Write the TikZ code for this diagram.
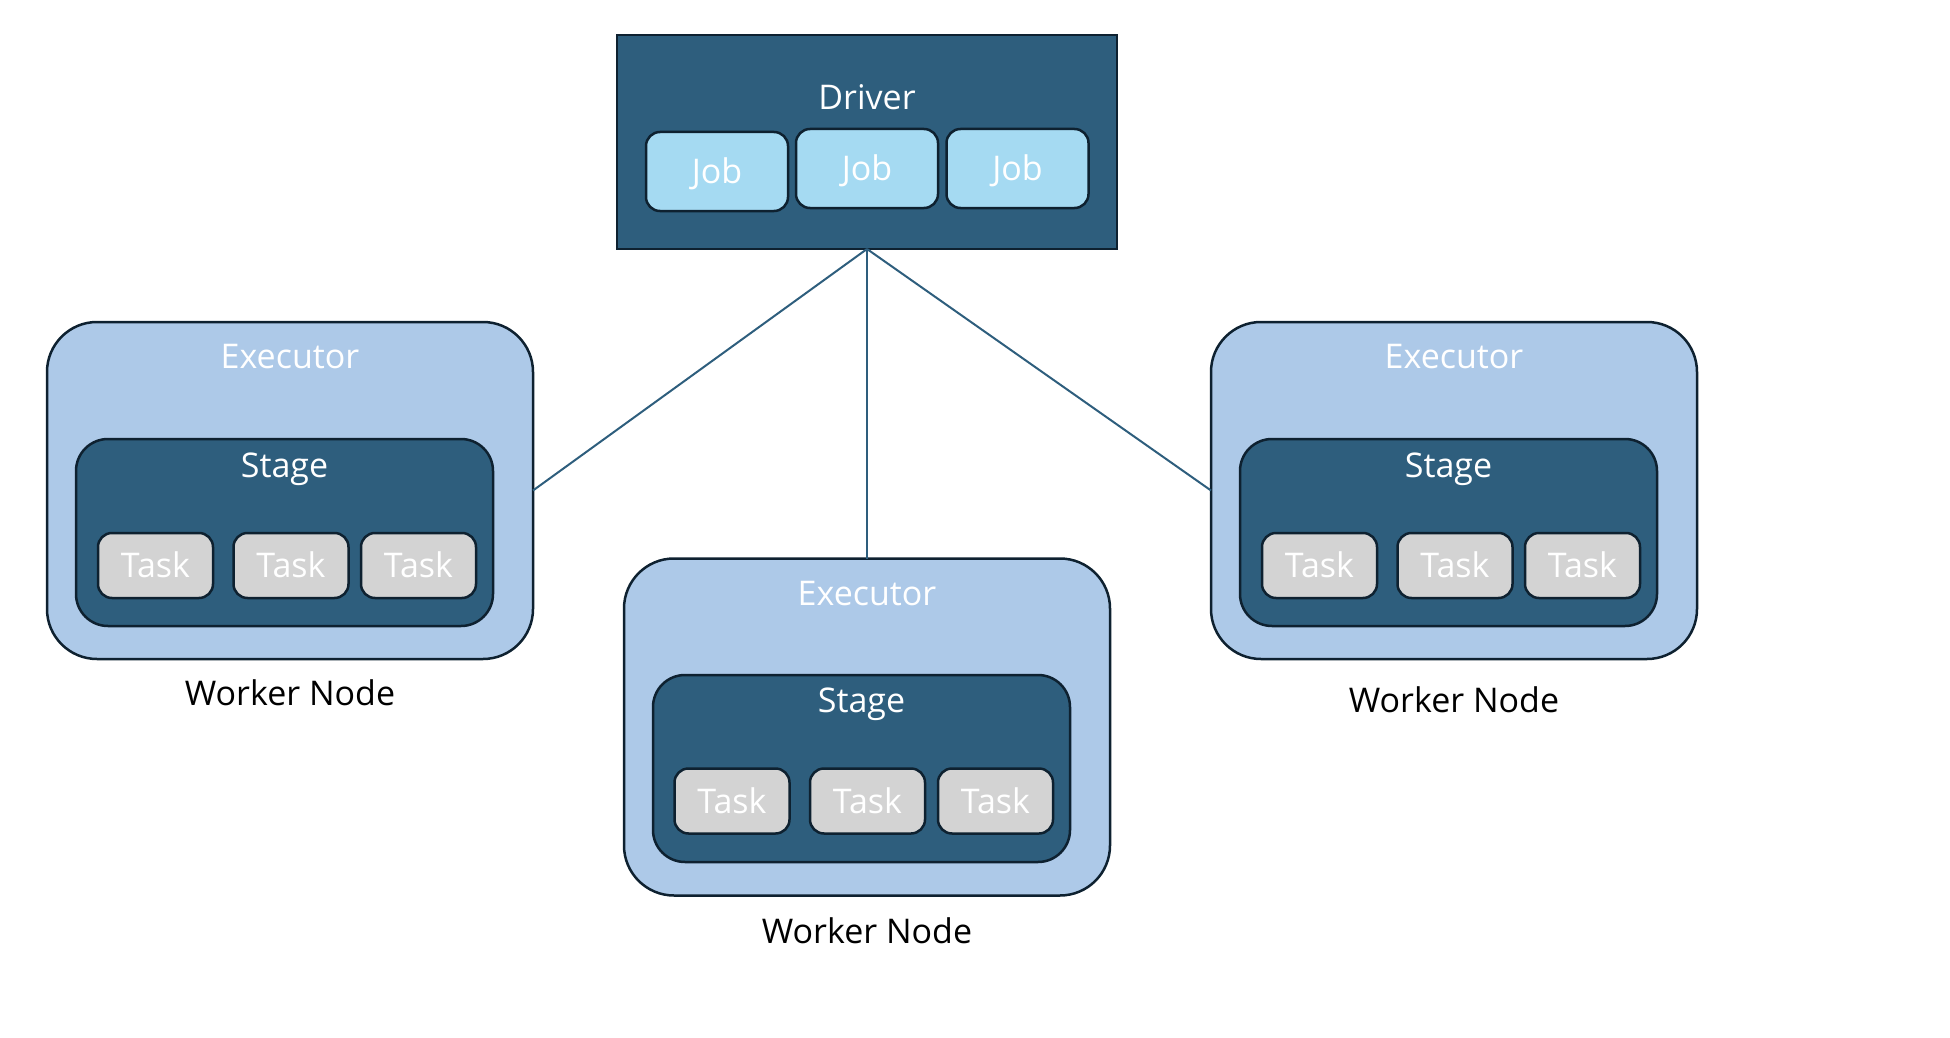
\documentclass[tikz,border=0pt]{standalone}
\usepackage{fontspec}
\setmainfont{Open Sans}
\definecolor{drv}{RGB}{46,94,125}
\definecolor{jobc}{RGB}{165,218,242}
\definecolor{exc}{RGB}{173,201,232}
\definecolor{taskc}{RGB}{211,211,211}
\definecolor{edge}{RGB}{14,33,48}
\tikzset{
  box/.style={draw=edge, line width=1.25pt, inner sep=0pt, outer sep=0pt},
  driverbox/.style={box, fill=drv, minimum width=250pt, minimum height=107pt},
  jobbox/.style={box, fill=jobc, rounded corners=7pt, minimum width=71pt, minimum height=39.5pt, text=white, text height=12pt, text depth=0pt, font=\fontsize{17}{20}\selectfont},
  execbox/.style={box, fill=exc, rounded corners=25pt, minimum width=243pt, minimum height=168.5pt},
  stagebox/.style={box, fill=drv, rounded corners=16pt, minimum width=208.5pt, minimum height=93.5pt},
  taskbox/.style={box, fill=taskc, rounded corners=7pt, minimum width=57.5pt, minimum height=32.5pt, text=white, text height=12pt, text depth=0pt, font=\fontsize{17}{20}\selectfont},
  wlabel/.style={anchor=base, inner sep=0pt, text=white, font=\fontsize{17}{20}\selectfont},
  blabel/.style={anchor=base, inner sep=0pt, text=black, font=\fontsize{17}{20}\selectfont},
  link/.style={draw=drv, line width=1pt},
}
\begin{document}
\begin{tikzpicture}[x=0.5pt, y=-0.5pt]
\useasboundingbox (0,0) rectangle (1950,1038);
% Driver
\node[driverbox] (driver) at (867,142) {};
\node[wlabel] (drvlab) at (867,110) {Driver};
\node[jobbox] (job1) at (717,171.5) {Job};
\node[jobbox] (job2) at (867,168.5) {Job};
\node[jobbox] (job3) at (1017.5,168.5) {Job};
% Left executor
\node[execbox] (ex1) at (290,490.5) {};
\node[wlabel] (ex1lab) at (290,368) {Executor};
\node[stagebox] (st1) at (284.5,532.5) {};
\node[wlabel] (st1lab) at (284.5,477) {Stage};
\node[taskbox] (t11) at (155.5,565.5) {Task};
\node[taskbox] (t12) at (291,565.5) {Task};
\node[taskbox] (t13) at (418.5,565.5) {Task};
\node[blabel] (w1) at (290,705) {Worker Node};
% Middle executor
\node[execbox] (ex2) at (867,727) {};
\node[wlabel] (ex2lab) at (867,605) {Executor};
\node[stagebox] (st2) at (861.5,768.5) {};
\node[wlabel] (st2lab) at (861.5,712) {Stage};
\node[taskbox] (t21) at (732,801) {Task};
\node[taskbox] (t22) at (867.5,801) {Task};
\node[taskbox] (t23) at (995.5,801) {Task};
\node[blabel] (w2) at (867,943) {Worker Node};
% Right executor
\node[execbox] (ex3) at (1454,490.5) {};
\node[wlabel] (ex3lab) at (1454,368) {Executor};
\node[stagebox] (st3) at (1448.5,532.5) {};
\node[wlabel] (st3lab) at (1448.5,477) {Stage};
\node[taskbox] (t31) at (1319.5,565.5) {Task};
\node[taskbox] (t32) at (1455,565.5) {Task};
\node[taskbox] (t33) at (1582.5,565.5) {Task};
\node[blabel] (w3) at (1454,712) {Worker Node};
% Connectors
\draw[link] (driver.south) -- (ex1.east);
\draw[link] (driver.south) -- (ex2.north);
\draw[link] (driver.south) -- (ex3.west);
\end{tikzpicture}
\end{document}
